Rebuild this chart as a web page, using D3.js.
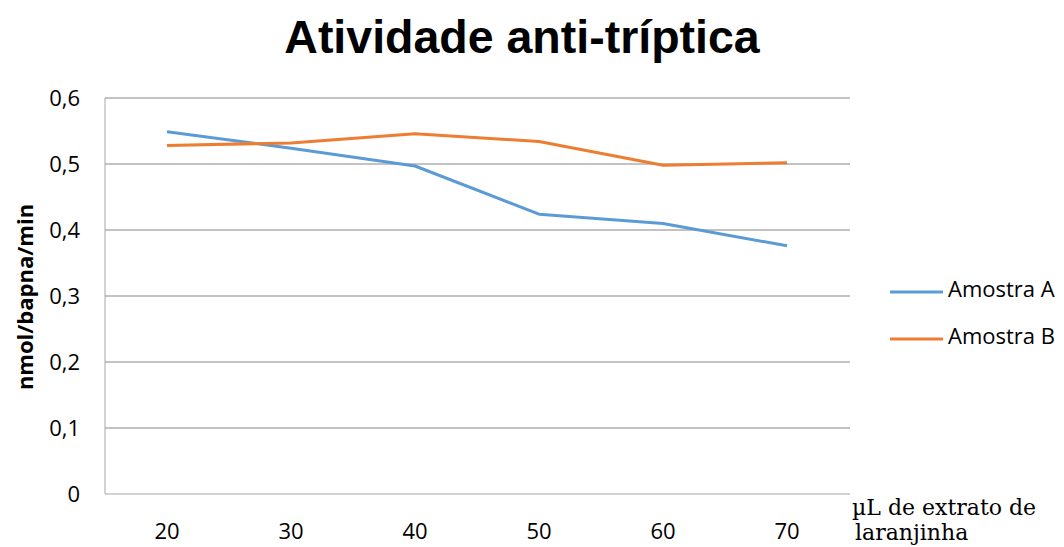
<!DOCTYPE html>
<html>
<head>
<meta charset="utf-8">
<script src="https://cdn.jsdelivr.net/npm/d3@7"></script>
<style>
  body { margin: 0; background: #fff; }
  svg { display: block; }
</style>
</head>
<body>
<div id="chart"></div>
<script>
var categories = [20, 30, 40, 50, 60, 70];
var amostraA = [0.549, 0.524, 0.497, 0.424, 0.410, 0.376];
var amostraB = [0.528, 0.532, 0.546, 0.534, 0.498, 0.502];
var seriesNames = ['Amostra A', 'Amostra B'];
var yTicks = [0, 0.1, 0.2, 0.3, 0.4, 0.5, 0.6];

var WIDTH = 1064, HEIGHT = 547;
var plot = {left: 105, right: 849, top: 98, bottom: 494};
var colors = ['#5B9BD5', '#ED7D31'];

var svg = d3.select('#chart').append('svg')
    .attr('width', WIDTH)
    .attr('height', HEIGHT);

var x = d3.scaleBand()
    .domain(categories)
    .range([plot.left, plot.right]);

var y = d3.scaleLinear()
    .domain([0, 0.6])
    .range([plot.bottom, plot.top]);

var fmt = function(d) { return d === 0 ? '0' : d3.format('.1f')(d).replace('.', ','); };

// Gridlines
svg.append('g')
    .selectAll('line')
    .data(yTicks.filter(function(d) { return d > 0; }))
    .enter().append('line')
        .attr('x1', plot.left)
        .attr('x2', plot.right + 1)
        .attr('y1', function(d) { return y(d); })
        .attr('y2', function(d) { return y(d); })
        .attr('stroke', '#868686')
        .attr('stroke-width', 1);

// Axes lines
svg.append('line')
    .attr('x1', plot.left).attr('x2', plot.left)
    .attr('y1', plot.top).attr('y2', plot.bottom)
    .attr('stroke', '#a6a6a6').attr('stroke-width', 1);
svg.append('line')
    .attr('x1', plot.left).attr('x2', plot.right + 1)
    .attr('y1', plot.bottom).attr('y2', plot.bottom)
    .attr('stroke', '#a6a6a6').attr('stroke-width', 1);

// Y tick labels
svg.append('g')
    .selectAll('text')
    .data(yTicks)
    .enter().append('text')
        .attr('x', 80)
        .attr('y', function(d) { return y(d); })
        .attr('dy', '0.35em')
        .attr('text-anchor', 'end')
        .attr('font-family', 'Open Sans, sans-serif')
        .attr('font-size', 22)
        .attr('fill', '#000')
        .text(fmt);

// X tick labels
svg.append('g')
    .selectAll('text')
    .data(categories)
    .enter().append('text')
        .attr('x', function(d) { return x(d) + x.bandwidth() / 2; })
        .attr('y', 539)
        .attr('text-anchor', 'middle')
        .attr('font-family', 'Open Sans, sans-serif')
        .attr('font-size', 22)
        .attr('fill', '#000')
        .text(function(d) { return d; });

// Lines
var line = d3.line()
    .x(function(d, i) { return x(categories[i]) + x.bandwidth() / 2; })
    .y(function(d) { return y(d); });

[amostraA, amostraB].forEach(function(values, i) {
  svg.append('path')
      .datum(values)
      .attr('d', line)
      .attr('fill', 'none')
      .attr('stroke', colors[i])
      .attr('stroke-width', 3)
      .attr('stroke-linejoin', 'round');
});

// Title
svg.append('text')
    .attr('x', 522)
    .attr('y', 53)
    .attr('text-anchor', 'middle')
    .attr('font-family', 'Liberation Sans, Arial, sans-serif')
    .attr('font-weight', 'bold')
    .attr('font-size', 46.5)
    .attr('fill', '#000')
    .text('Atividade anti-tríptica');

// Y axis title
svg.append('text')
    .attr('transform', 'translate(33,' + 297 + ') rotate(-90)')
    .attr('text-anchor', 'middle')
    .attr('font-family', 'Open Sans, sans-serif')
    .attr('font-weight', 'bold')
    .attr('font-size', 22)
    .attr('fill', '#000')
    .text('nmol/bapna/min');

// X axis title
var xTitle = svg.append('text')
    .attr('font-family', 'DejaVu Serif, serif')
    .attr('font-size', 22)
    .attr('fill', '#000');
xTitle.append('tspan').attr('x', 852).attr('y', 515).text('µL de extrato de');
xTitle.append('tspan').attr('x', 855).attr('y', 540).text('laranjinha');

// Legend
var legend = svg.append('g')
    .selectAll('g')
    .data(seriesNames)
    .enter().append('g')
        .attr('transform', function(d, i) { return 'translate(890,' + (292 + i * 47) + ')'; });
legend.append('line')
    .attr('x1', 0).attr('x2', 53)
    .attr('stroke', function(d, i) { return colors[i]; })
    .attr('stroke-width', 3);
legend.append('text')
    .attr('x', 58)
    .attr('y', 5)
    .attr('font-family', 'Open Sans, sans-serif')
    .attr('font-size', 22)
    .attr('fill', '#000')
    .text(function(d) { return d; });
</script>
</body>
</html>
